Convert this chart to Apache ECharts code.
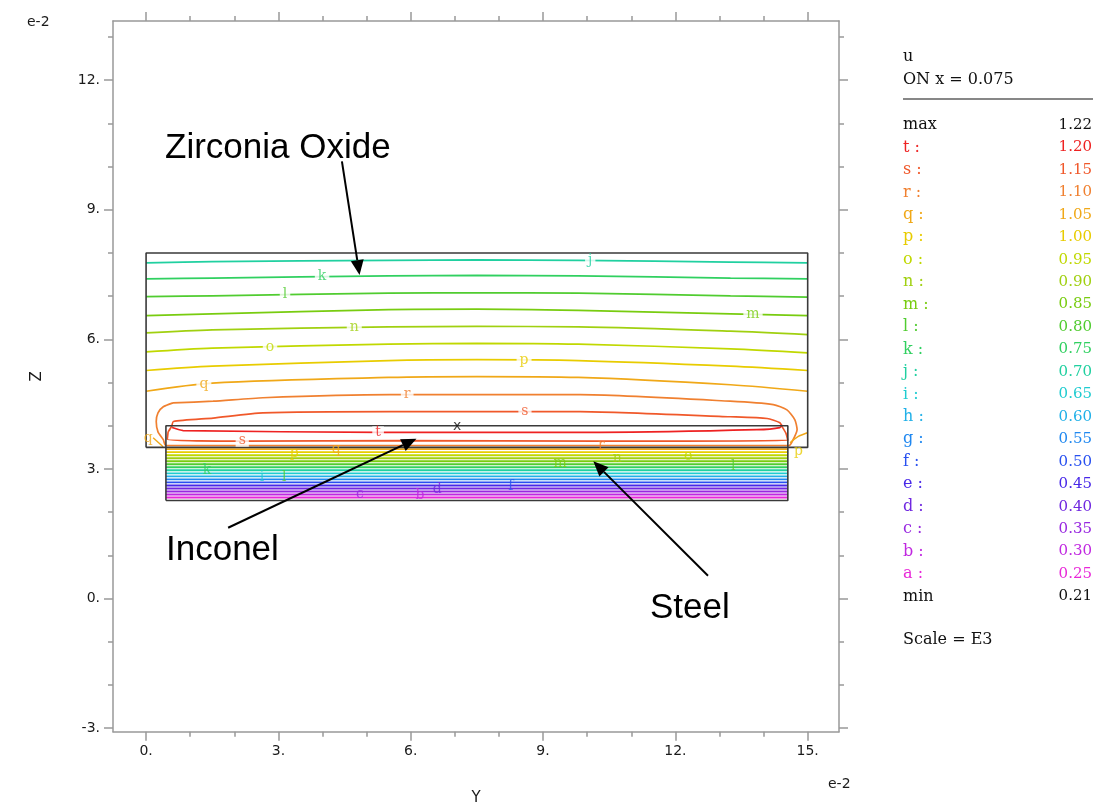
<!DOCTYPE html>
<html><head><meta charset="utf-8">
<script src="https://cdn.jsdelivr.net/npm/echarts@6/dist/echarts.min.js"></script>
<style>html,body{margin:0;padding:0;background:#fff}#c{width:1093px;height:805px}</style>
</head><body><div id="c"></div>
<script>
// ---------- data ----------
const levelNames  = ['a','b','c','d','e','f','g','h','i','j','k','l','m','n','o','p','q','r','s','t'];
const levelValues = [0.25,0.30,0.35,0.40,0.45,0.50,0.55,0.60,0.65,0.70,0.75,0.80,0.85,0.90,0.95,1.00,1.05,1.10,1.15,1.20];
const levelColors = ['#e828d8','#c028e0','#9828e0','#7028e0','#4828e8','#2850f0','#2088f0','#20b0e8','#20ccd0','#20d0a0',
                     '#30d060','#50cc30','#78cc10','#a0d010','#c0d800','#e8cc00','#f0a818','#f08030','#f0582a','#ee2222'];
const maxValue = 1.22;
const minValue = 0.21;
const probeText = 'ON x = 0.075';
const scaleText = 'Scale = E3';

const xTickMajor = [0,3,6,9,12,15];
const xTickMinor = [0,1,2,3,4,5,6,7,8,9,10,11,12,13,14,15];
const yTickMajor = [-3,0,3,6,9,12];
const yTickMinor = [-3,-2,-1,0,1,2,3,4,5,6,7,8,9,10,11,12,13];

// contours in the zirconia layer (edge to edge)
const upperX = [0, 1.5, 5.5, 7.5, 9.8, 13.25, 15];
const upperJ = [7.77, 7.80, 7.83, 7.84, 7.83, 7.79, 7.77];
const upperK = [7.40, 7.42, 7.47, 7.48, 7.47, 7.42, 7.40];
const upperL = [6.99, 7.01, 7.07, 7.08, 7.07, 7.01, 6.98];
const upperM = [6.55, 6.59, 6.69, 6.70, 6.67, 6.59, 6.55];
const upperN = [6.15, 6.22, 6.29, 6.30, 6.29, 6.19, 6.11];
const upperO = [5.71, 5.80, 5.89, 5.91, 5.89, 5.78, 5.69];
const upperP = [5.28, 5.38, 5.51, 5.53, 5.51, 5.38, 5.28];
const upperQ = [4.80, 4.99, 5.12, 5.14, 5.12, 4.95, 4.80];

// closed contours around the inconel layer
const loopR = [[0.61,4.53],[1.52,4.57],[2.65,4.65],[5.53,4.72],[9.84,4.72],[13.24,4.57],[14.22,4.49],[14.53,4.37],
               [14.71,4.14],[14.76,3.91],[14.67,3.68],[14.58,3.545],[0.45,3.545],[0.39,3.68],[0.27,3.86],[0.23,4.10],
               [0.27,4.30],[0.39,4.44],[0.61,4.53]];
const loopS = [[0.50,3.86],[0.58,3.99],[0.62,4.10],[1.52,4.18],[2.65,4.30],[5.53,4.33],[9.84,4.33],[13.24,4.21],
               [14.08,4.17],[14.37,4.07],[14.42,3.98],[14.51,3.82],[14.55,3.66],[10.29,3.645],[5.76,3.655],
               [2.20,3.645],[0.48,3.69],[0.50,3.86]];
const lineT = [[0.59,3.96],[0.84,3.89],[5.31,3.85],[10.29,3.85],[13.85,3.91],[14.37,3.96],[14.42,4.03]];

// contours in the steel layer (level name -> height)
const steelNames = ['q','p','o','n','m','l','k','j','i','h','g','f','e','d','c','b','a'];
const steelY     = [3.46,3.39,3.32,3.25,3.18,3.11,3.04,2.97,2.90,2.83,2.76,2.69,2.62,2.55,2.48,2.41,2.34];
const steelX     = [0.45, 14.55];

const cornerLeftQ  = [[0.16,3.725],[0.385,3.517]];
const cornerRightP = [[14.60,3.61],[14.78,3.75],[14.99,3.84]];

// material outlines
const zirconiaRect = [[0,3.5],[15,3.5],[15,8],[0,8],[0,3.5]];
const steelRect    = [[0.45,2.27],[14.55,2.27],[14.55,4.0],[0.45,4.0],[0.45,2.27]];

// contour letter labels
const upperLabels = [['j',10.07,7.83],['k',3.99,7.46],['l',3.15,7.05],['m',13.76,6.57],['n',4.72,6.28],
                     ['o',2.81,5.82],['p',8.57,5.52],['q',1.31,4.96],['r',5.92,4.72],['s',8.59,4.33],
                     ['t',5.26,3.85],['s',2.18,3.655]];
const lowerLabels = [['r',10.32,3.545],['q',4.31,3.46],['p',3.36,3.36],['o',12.29,3.30],['n',10.68,3.25],
                     ['m',9.39,3.13],['l',13.31,3.06],['k',1.38,2.98],['i',2.63,2.80],['l',3.13,2.80],
                     ['c',4.85,2.41],['b',6.21,2.38],['d',6.60,2.52],['f',8.27,2.59],['q',0.05,3.72],['p',14.79,3.40]];
const maxPoint = [7.05, 3.98];

// annotation arrows [from, to]
const arrowZirconia = [[4.44,10.12],[4.84,7.49]];
const arrowInconel  = [[1.86,1.64],[6.13,3.70]];
const arrowSteel    = [[12.74,0.53],[10.14,3.18]];

// ---------- chart ----------
const colorOf = n => levelColors[levelNames.indexOf(n)];
const AX = '#999';
const tickFont = {fontFamily:'DejaVu Sans', fontSize:14, color:'#1a1a1a'};

function lineSeries(data, color, width, z, smooth) {
  return {type:'line', data, symbol:'none', smooth: smooth || false, silent:true, z: z || 2,
          lineStyle:{color, width: width || 1.6}, clip:true};
}

const series = [];
const upperSets = {j:upperJ,k:upperK,l:upperL,m:upperM,n:upperN,o:upperO,p:upperP,q:upperQ};
Object.keys(upperSets).forEach(n => {
  series.push(lineSeries(upperX.map((x,i)=>[x, upperSets[n][i]]), colorOf(n), 1.7, 2, 0.3));
});
series.push(lineSeries(loopR, colorOf('r'), 1.7, 2, 0.2));
series.push(lineSeries(loopS, colorOf('s'), 1.7, 2, 0.2));
series.push(lineSeries(lineT, colorOf('t'), 1.7, 2, 0.2));
steelNames.forEach((n,i) => {
  series.push(lineSeries(steelX.map(x=>[x, steelY[i]]), colorOf(n), 1.9, 2));
});
series.push(lineSeries(cornerLeftQ, colorOf('q'), 1.4, 2));
series.push(lineSeries(cornerRightP, colorOf('q'), 1.4, 2, 0.3));
series.push(lineSeries(zirconiaRect, '#3a3a3a', 1.6, 5));
series.push(lineSeries(steelRect, '#3a3a3a', 1.6, 5));

series.push({
  type:'scatter', symbolSize:1, itemStyle:{color:'rgba(0,0,0,0)'}, silent:true, z:10,
  data: upperLabels.map(([n,x,y]) => ({name:n, value:[x,y], label:{color:colorOf(n)}})),
  label:{show:true, position:'inside', formatter:'{b}', fontFamily:'DejaVu Serif', fontSize:14,
         backgroundColor:'#fff', padding:[0,3], lineHeight:12}
});
series.push({
  type:'scatter', symbolSize:1, itemStyle:{color:'rgba(0,0,0,0)'}, silent:true, z:10,
  data: lowerLabels.map(([n,x,y]) => ({name:n, value:[x,y], label:{color:colorOf(n)}})),
  label:{show:true, position:'inside', formatter:'{b}', fontFamily:'DejaVu Serif', fontSize:14}
});
series.push({
  type:'scatter', symbolSize:1, itemStyle:{color:'rgba(0,0,0,0)'}, silent:true, z:10,
  data:[{name:'x', value:maxPoint}],
  label:{show:true, position:'inside', formatter:'{b}', fontFamily:'DejaVu Sans', fontSize:14, color:'#111'}
});

function xAx(pos, major) {
  return {type:'value', position:pos, min:-0.75, max:15.71,
    axisLine:{show:major, onZero:false, lineStyle:{color:AX, width:1.5}},
    axisTick:{show:true, inside:false, length: major ? 9 : 5, customValues: major ? xTickMajor : xTickMinor,
              lineStyle:{color:AX, width:1.5}},
    axisLabel:{show: major && pos==='bottom', customValues:xTickMajor, formatter: v => v + '.', margin:13, ...tickFont},
    splitLine:{show:false}};
}
function yAx(pos, major) {
  return {type:'value', position:pos, min:-3.08, max:13.37,
    axisLine:{show:major, onZero:false, lineStyle:{color:AX, width:1.5}},
    axisTick:{show:true, inside:false, length: major ? 9 : 5, customValues: major ? yTickMajor : yTickMinor,
              lineStyle:{color:AX, width:1.5}},
    axisLabel:{show: major && pos==='left', customValues:yTickMajor, formatter: v => v + '.', margin:13, ...tickFont},
    splitLine:{show:false}};
}
const xAxes = [xAx('bottom',true), xAx('top',true), xAx('bottom',false), xAx('top',false)];
xAxes[0].name = 'Y'; xAxes[0].nameLocation = 'middle'; xAxes[0].nameGap = 59;
xAxes[0].nameTextStyle = {fontFamily:'DejaVu Sans', fontSize:15, color:'#1a1a1a'};
const yAxes = [yAx('left',true), yAx('right',true), yAx('left',false), yAx('right',false)];
yAxes[0].name = 'Z'; yAxes[0].nameLocation = 'middle'; yAxes[0].nameGap = 68;
yAxes[0].nameTextStyle = {fontFamily:'DejaVu Sans', fontSize:15, color:'#1a1a1a'};

const chart = echarts.init(document.getElementById('c'), null, {renderer:'canvas'});
chart.setOption({
  animation:false, backgroundColor:'#fff',
  grid:{left:113, top:21, width:726, height:710.7, containLabel:false, outerBoundsMode:'none'},
  xAxis:xAxes, yAxis:yAxes, series
});

// ---------- annotations and level table ----------
const g = [];
const serif = 'DejaVu Serif';
g.push({type:'text', style:{x:27, y:22, text:'e-2', font:'14px DejaVu Sans', fill:'#1a1a1a', verticalAlign:'middle'}});
g.push({type:'text', style:{x:828, y:784, text:'e-2', font:'14px DejaVu Sans', fill:'#1a1a1a', verticalAlign:'middle'}});
const annFont = '35px "Liberation Sans"';
g.push({type:'text', style:{x:165, y:148, text:'Zirconia Oxide', font:annFont, fill:'#000', verticalAlign:'middle'}});
g.push({type:'text', style:{x:166, y:550, text:'Inconel', font:annFont, fill:'#000', verticalAlign:'middle'}});
g.push({type:'text', style:{x:650, y:608, text:'Steel', font:annFont, fill:'#000', verticalAlign:'middle'}});

const LX = 903, RX = 1092;
g.push({type:'text', style:{x:LX, y:57, text:'u', font:'16px ' + serif, fill:'#111', verticalAlign:'middle'}});
g.push({type:'text', style:{x:LX, y:80, text:probeText, font:'16px ' + serif, fill:'#111', verticalAlign:'middle'}});
g.push({type:'line', shape:{x1:LX, y1:99, x2:1093, y2:99}, style:{stroke:'#111', lineWidth:1.2}});
const rows = [{l:'max', v:maxValue, c:'#111'}];
for (let i = levelNames.length - 1; i >= 0; i--) rows.push({l:levelNames[i] + ' :', v:levelValues[i], c:levelColors[i]});
rows.push({l:'min', v:minValue, c:'#111'});
rows.forEach((r, i) => {
  const y = 125 + i * 22.45;
  g.push({type:'text', style:{x:LX, y, text:r.l, font:'16px ' + serif, fill:r.c, verticalAlign:'middle'}});
  g.push({type:'text', style:{x:RX, y, text:r.v.toFixed(2), font:'15px ' + serif, fill:r.c, verticalAlign:'middle', align:'right'}});
});
g.push({type:'text', style:{x:LX, y:640, text:scaleText, font:'16px ' + serif, fill:'#111', verticalAlign:'middle'}});

[arrowZirconia, arrowInconel, arrowSteel].forEach(([from, to]) => {
  const p0 = chart.convertToPixel({xAxisIndex:0, yAxisIndex:0}, from);
  const p1 = chart.convertToPixel({xAxisIndex:0, yAxisIndex:0}, to);
  const dx = p1[0]-p0[0], dy = p1[1]-p0[1], L = Math.hypot(dx, dy), ux = dx/L, uy = dy/L;
  const hl = 15, hw = 6.5;
  const bx = p1[0]-ux*hl, by = p1[1]-uy*hl;
  g.push({type:'line', z:100, shape:{x1:p0[0], y1:p0[1], x2:bx, y2:by}, style:{stroke:'#000', lineWidth:2}});
  g.push({type:'polygon', z:100, shape:{points:[[p1[0],p1[1]],[bx-uy*hw, by+ux*hw],[bx+uy*hw, by-ux*hw]]}, style:{fill:'#000'}});
});
chart.setOption({graphic:{elements:g}});
</script></body></html>
